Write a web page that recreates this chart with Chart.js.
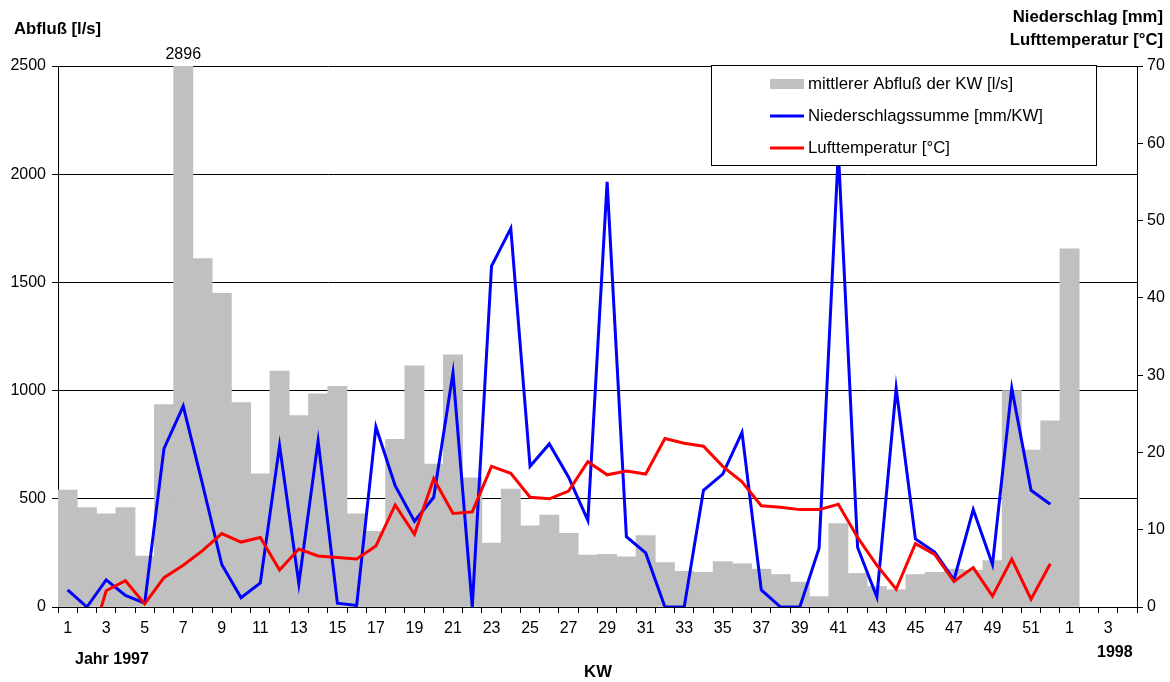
<!DOCTYPE html>
<html>
<head>
<meta charset="utf-8">
<script src="https://cdn.jsdelivr.net/npm/chart.js@4/dist/chart.umd.min.js"></script>
<style>
  html, body { margin: 0; padding: 0; background: #fff; }
  #wrap { width: 1170px; height: 682px; position: relative; }
</style>
</head>
<body>
<div id="wrap"><canvas id="chart" width="1170" height="682"></canvas></div>
<script>
// KW 1-52 of 1997, then KW 1-4 of 1998
const weeks = ['1','2','3','4','5','6','7','8','9','10','11','12','13','14','15','16','17','18','19','20',
    '21','22','23','24','25','26','27','28','29','30','31','32','33','34','35','36','37','38','39','40',
    '41','42','43','44','45','46','47','48','49','50','51','52','1','2','3','4']

// mittlerer Abfluss der KW [l/s]
const abfluss = [540, 460, 430, 460, 235, 935, 2896, 1610, 1450, 945,
    615, 1090, 885, 985, 1020, 430, 350, 775, 1115, 660,
    1165, 597, 295, 545, 375, 425, 340, 240, 243, 232,
    330, 205, 165, 160, 210, 200, 175, 150, 115, 48,
    385, 155, 95, 80, 150, 160, 175, 170, 215, 1000,
    725, 860, 1655, null, null, null]

// Niederschlagssumme [mm/KW]
const niederschlag = [2.2, 0, 3.5, 1.5, 0.5, 20.5, 26, 15.9, 5.5, 1.2,
    3.1, 20.9, 3.0, 21.5, 0.5, 0.2, 23.3, 15.7, 11.1, 14.2,
    30.3, 0, 44.1, 49, 18.2, 21.1, 16.8, 11.2, 55, 9.1,
    7.0, 0, 0, 15.1, 17.2, 22.6, 2.2, 0, 0, 7.6,
    59, 7.7, 1.3, 28.3, 8.8, 7.1, 3.5, 12.6, 5.5, 28.3,
    15.1, 13.3, null, null, null, null]

// Lufttemperatur [°C]
const temperatur = [-3, -6.3, 2.1, 3.4, 0.4, 3.8, 5.4, 7.3, 9.5, 8.4,
    9.0, 4.8, 7.5, 6.6, 6.4, 6.2, 7.9, 13.2, 9.4, 16.6,
    12.1, 12.3, 18.2, 17.3, 14.2, 14.0, 15.0, 18.8, 17.1, 17.6,
    17.2, 21.8, 21.2, 20.8, 18.2, 16.2, 13.1, 12.9, 12.6, 12.6,
    13.3, 9.0, 5.4, 2.3, 8.2, 6.8, 3.3, 5.1, 1.4, 6.2,
    1.0, 5.6, null, null, null, null]

const abflussMax = 2500
const abflussStep = 500
const rightMax = 70
const rightStep = 10

const fontFamily = '"Liberation Sans", Arial, sans-serif'
const colBar = '#c0c0c0'
const colRain = '#0000ff'
const colTemp = '#ff0000'

const legendItems = [
    { text: 'mittlerer Abfluß der KW [l/s]', type: 'box', color: colBar },
    { text: 'Niederschlagssumme [mm/KW]', type: 'line', color: colRain },
    { text: 'Lufttemperatur [°C]', type: 'line', color: colTemp }
]

const extras = {
    id: 'extras',
    afterDraw(chart){
        const c = chart.ctx
        const area = chart.chartArea
        const xs = chart.scales.x

        c.save()
        c.fillStyle = '#000'
        c.textBaseline = 'middle'

        // value of the clipped bar
        const top = Math.max(...abfluss.filter(v => v !== null))
        const i = abfluss.indexOf(top)
        c.font = '16px ' + fontFamily
        c.textAlign = 'center'
        c.fillText(String(top), xs.getPixelForValue(i), area.top - 11)

        // axis titles
        c.font = 'bold 16.7px ' + fontFamily
        c.textAlign = 'left'
        c.fillText('Abfluß [l/s]', 14, 29)
        c.textAlign = 'right'
        c.fillText('Niederschlag [mm]', 1163, 17)
        c.fillText('Lufttemperatur [°C]', 1163, 40)
        c.textAlign = 'center'
        c.fillText('KW', 598, 672)
        c.font = 'bold 16px ' + fontFamily
        c.textAlign = 'left'
        c.fillText('Jahr 1997', 75, 660)
        c.fillText('1998', 1097, 653)

        // legend box
        c.fillStyle = '#fff'
        c.fillRect(711, 65, 385, 100)
        c.strokeStyle = '#000'
        c.lineWidth = 1
        c.strokeRect(711.5, 65.5, 385, 100)
        c.font = '16.8px ' + fontFamily
        c.textAlign = 'left'
        legendItems.forEach((item, k) => {
            const y = 84 + k * 32
            if(item.type == 'box'){
                c.fillStyle = item.color
                c.fillRect(770, y - 5, 34, 10)
            }else{
                c.strokeStyle = item.color
                c.lineWidth = 3
                c.beginPath()
                c.moveTo(770, y)
                c.lineTo(804, y)
                c.stroke()
            }
            c.fillStyle = '#000'
            c.fillText(item.text, 808, y)
        })
        c.restore()
    }
}

const ctx = document.querySelector('#chart').getContext('2d')

new Chart(ctx, {
    type: 'bar',
    data: {
        labels: weeks,
        datasets: [
            {
                type: 'line',
                label: 'Lufttemperatur [°C]',
                data: temperatur,
                yAxisID: 'y1',
                borderColor: colTemp,
                borderWidth: 3,
                pointRadius: 0,
                tension: 0,
                clip: { left: 5, top: 5, right: 5, bottom: 0 },
                order: 1
            },
            {
                type: 'line',
                label: 'Niederschlagssumme [mm/KW]',
                data: niederschlag,
                yAxisID: 'y1',
                borderColor: colRain,
                borderWidth: 3,
                pointRadius: 0,
                tension: 0,
                order: 2
            },
            {
                label: 'mittlerer Abfluß der KW [l/s]',
                data: abfluss,
                yAxisID: 'y',
                backgroundColor: colBar,
                borderWidth: 0,
                barPercentage: 1,
                categoryPercentage: 1,
                order: 3
            }
        ]
    },
    options: {
        responsive: false,
        animation: false,
        layout: { padding: { top: 66, left: 0, right: 0, bottom: 0 } },
        plugins: {
            legend: { display: false },
            tooltip: { enabled: false }
        },
        scales: {
            x: {
                offset: true,
                grid: { offset: true, drawOnChartArea: false, tickLength: 6, tickColor: '#000' },
                border: { color: '#000' },
                ticks: {
                    autoSkip: false,
                    maxRotation: 0,
                    padding: 6,
                    color: '#000',
                    font: { size: 16, family: fontFamily },
                    callback: (v, i) => i % 2 === 0 ? weeks[i] : ''
                },
                afterFit: s => { s.height = 75 }
            },
            y: {
                position: 'left',
                min: 0,
                max: abflussMax,
                ticks: {
                    stepSize: abflussStep,
                    padding: 6,
                    color: '#000',
                    font: { size: 16, family: fontFamily },
                    callback: v => String(v)
                },
                grid: { color: '#000', tickColor: '#000', tickLength: 6 },
                border: { color: '#000' },
                afterFit: s => { s.width = 58 }
            },
            y1: {
                position: 'right',
                min: 0,
                max: rightMax,
                ticks: {
                    stepSize: rightStep,
                    padding: 4,
                    color: '#000',
                    font: { size: 16, family: fontFamily },
                    callback: v => String(v)
                },
                grid: { drawOnChartArea: false, tickColor: '#000', tickLength: 6 },
                border: { color: '#000' },
                afterFit: s => { s.width = 33 }
            }
        }
    },
    plugins: [extras]
})
</script>
</body>
</html>
